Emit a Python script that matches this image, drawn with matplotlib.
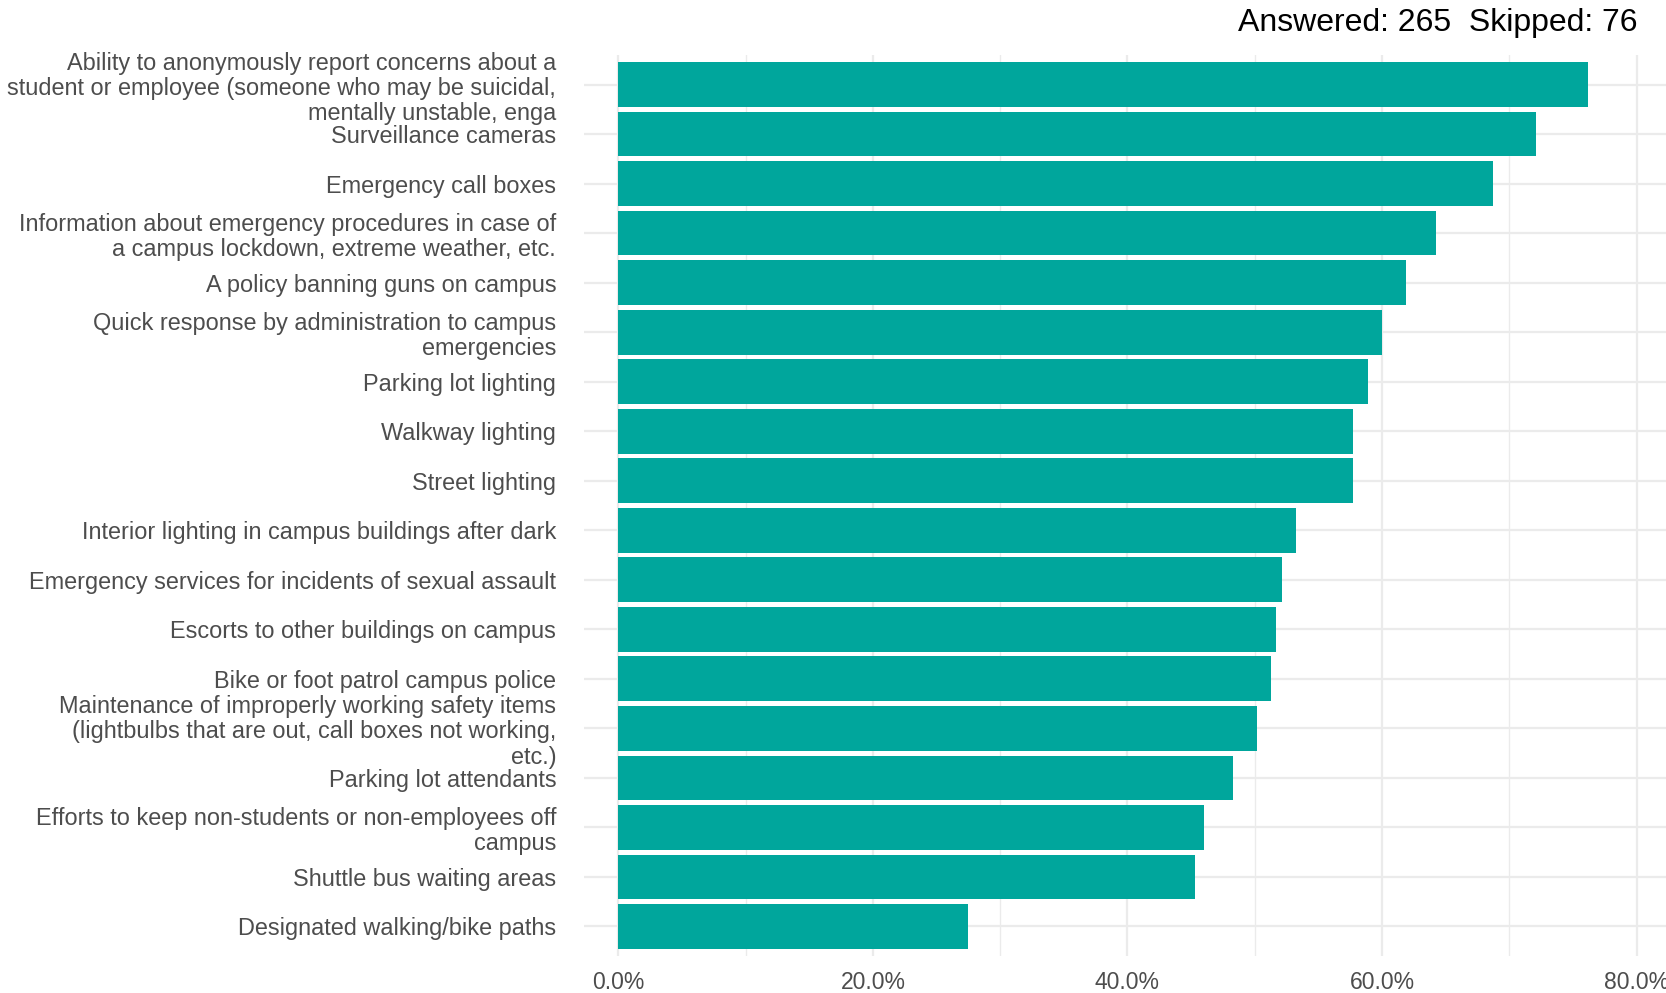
import matplotlib.pyplot as plt
from matplotlib.ticker import MultipleLocator, FuncFormatter

plt.rcParams["font.family"] = ["Liberation Sans", "DejaVu Sans"]

categories = [
    "Ability to anonymously report concerns about a\nstudent or employee (someone who may be suicidal,\nmentally unstable, enga",
    "Surveillance cameras",
    "Emergency call boxes",
    "Information about emergency procedures in case of\na campus lockdown, extreme weather, etc.",
    "A policy banning guns on campus",
    "Quick response by administration to campus\nemergencies",
    "Parking lot lighting",
    "Walkway lighting",
    "Street lighting",
    "Interior lighting in campus buildings after dark",
    "Emergency services for incidents of sexual assault",
    "Escorts to other buildings on campus",
    "Bike or foot patrol campus police",
    "Maintenance of improperly working safety items\n(lightbulbs that are out, call boxes not working,\netc.)",
    "Parking lot attendants",
    "Efforts to keep non-students or non-employees off\ncampus",
    "Shuttle bus waiting areas",
    "Designated walking/bike paths",
]
percent = [76.2, 72.1, 68.7, 64.2, 61.9, 60.0, 58.9, 57.7, 57.7, 53.2,
           52.1, 51.7, 51.3, 50.2, 48.3, 46.0, 45.3, 27.5]
answered = 265
skipped = 76

bar_color = "#00A69C"
text_color = "#4D4D4D"
grid_color = "#EBEBEB"

fig = plt.figure(figsize=(16.66, 9.93), dpi=100)
ax = fig.add_axes([584 / 1666, 1 - 956 / 993, (1685 - 584) / 1666, (956 - 55) / 993])

pos = list(range(len(categories)))
ax.barh(pos, percent, height=0.9, color=bar_color, zorder=2)

ax.set_ylim(len(categories) - 0.4, -0.6)
ax.set_xlim(-2.7, 83.8)

ax.set_yticks(pos)
ax.set_yticklabels(categories, fontsize=16.9, color=text_color, linespacing=1.13)
ax.xaxis.set_major_locator(MultipleLocator(20))
ax.xaxis.set_minor_locator(MultipleLocator(10))
ax.xaxis.set_major_formatter(FuncFormatter(lambda v, p: "%.1f%%" % v))
ax.tick_params(axis="x", labelsize=16.5, labelcolor=text_color, length=0, pad=11, which="both")
ax.tick_params(axis="y", length=0, pad=20)

ax.grid(True, which="major", axis="both", color=grid_color, linewidth=1.6, zorder=0)
ax.grid(True, which="minor", axis="x", color=grid_color, linewidth=1.0, zorder=0)
ax.set_axisbelow(True)
for s in ax.spines.values():
    s.set_visible(False)

fig.text(1637 / 1666, 1 - 23 / 993, "Answered: %d  Skipped: %d" % (answered, skipped),
         ha="right", va="center", fontsize=23, color="black")

plt.savefig("out.png", dpi=100)
